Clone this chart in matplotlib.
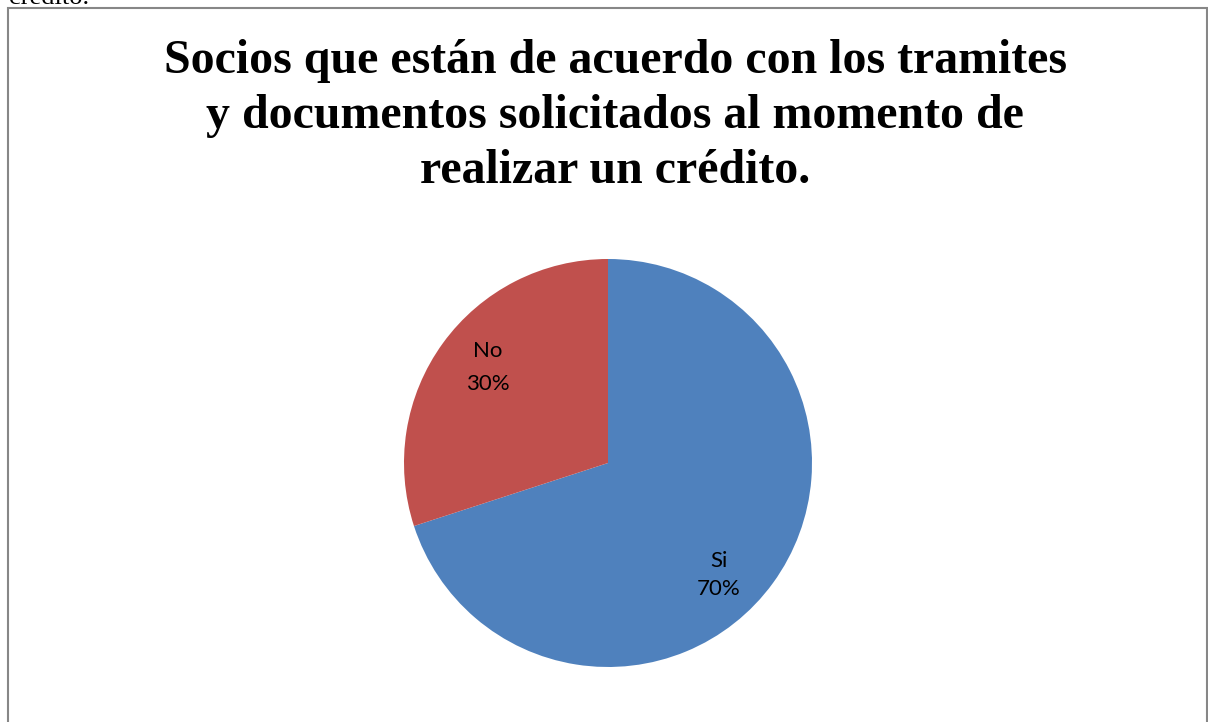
import matplotlib.pyplot as plt
from matplotlib.patches import Rectangle

categories = ["Si", "No"]
values = [70, 30]
colors = ["#4F81BD", "#C0504D"]
title_lines = ["Socios que están de acuerdo con los tramites",
               "y documentos solicitados al momento de",
               "realizar un crédito."]

W, H = 1208, 722
fig = plt.figure(figsize=(W / 100, H / 100), dpi=100)
fig.patch.set_facecolor("white")

# border
fig.add_artist(Rectangle((8 / W, -0.01), (1207 - 8) / W, (H - 8) / H + 0.01,
                         transform=fig.transFigure, fill=False,
                         edgecolor="#878787", linewidth=1.5))

# cut-off text from page above
fig.text(9 / W, 1 - 4 / H, "crédito.", fontsize=19, family="Liberation Serif",
         ha="left", va="baseline")

for line, base in zip(title_lines, [73, 128, 183]):
    fig.text(615 / W, 1 - base / H, line, fontsize=34.5, family="Liberation Serif",
             weight="bold", ha="center", va="baseline")

cx, cy, r = 608, 463, 204
ax = fig.add_axes([(cx - r) / W, (H - cy - r) / H, 2 * r / W, 2 * r / H])
wedges, _ = ax.pie(values, colors=colors, startangle=90, counterclock=False,
                   radius=1.0, wedgeprops=dict(linewidth=0))
ax.set_xlim(-1, 1)
ax.set_ylim(-1, 1)
ax.set_aspect("equal")
ax.axis("off")

# label anchor (x, first-line baseline, second-line baseline) in pixels
label_px = {"Si": (719, 567, 595), "No": (488, 357, 390)}
for cat, v in zip(categories, values):
    px, b1, b2 = label_px[cat]
    xd = (px - cx) / r
    ax.text(xd, (cy - b1) / r, cat, ha="center", va="baseline", fontsize=16,
            family="Lato", color="black")
    ax.text(xd, (cy - b2) / r, f"{v}%", ha="center", va="baseline", fontsize=16,
            family="Lato", color="black")

fig.savefig("out.png", dpi=100)
